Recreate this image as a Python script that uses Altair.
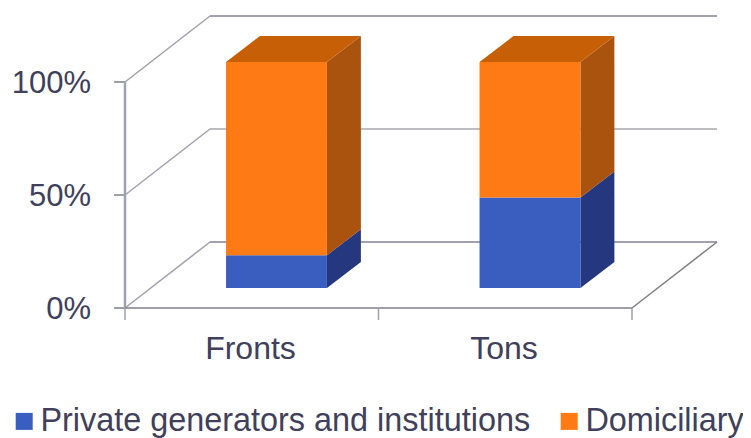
import altair as alt
import pandas as pd

categories = ["Fronts", "Tons"]
series = ["Private generators and institutions", "Domiciliary"]
private_values = [14.5, 40.0]
domiciliary_values = [85.5, 60.0]
y_ticks = [0, 50, 100]
y_labels = ["0%", "50%", "100%"]

front_colors = ["#3A5DC0", "#FD7A14"]
side_colors = ["#25387F", "#A9530F"]
top_color = "#C75F07"
line_color = "#A0A0AE"
dark_line = "#7E7E86"
text_color = "#40405A"
FONT = "Liberation Sans"

# oblique projection of the 3D box, in data units (category units, percent)
WALL_DX, WALL_DY = 0.3353, 29.2
BAR_START_DX, BAR_START_DY = 0.1026, 8.85
BAR_DX, BAR_DY = 0.134, 11.5
BAR_LEFT, BAR_RIGHT = 0.296, 0.694

# wall and floor lines
segs = []
def seg(x, y, x2, y2, w=1.5, c=line_color):
    segs.append(dict(x=x, y=y, x2=x2, y2=y2, w=w, c=c))

n = len(categories)
for t in y_ticks:
    seg(0, t, WALL_DX, t + WALL_DY)
    if t == 50:
        seg(WALL_DX, t + WALL_DY, n + WALL_DX, t + WALL_DY, 1.2, dark_line)
    else:
        seg(WALL_DX, t + WALL_DY, n + WALL_DX, t + WALL_DY, 2.2)
    seg(-0.043, t, 0, t, 1.5, dark_line)
seg(0, 0, 0, 100, 2.5)
seg(0, 0, n, 0, 1.6, dark_line)
seg(n, 0, n + WALL_DX, WALL_DY, 1.5, dark_line)
for i in range(n + 1):
    seg(i, 0, i, -5.3, 1.5)

front, faces = [], []
for i, cat in enumerate(categories):
    left = i + BAR_LEFT + BAR_START_DX
    right = i + BAR_RIGHT + BAR_START_DX
    base = BAR_START_DY
    bottom = 0.0
    for s, vals, side in zip(series, [private_values, domiciliary_values], side_colors):
        v = vals[i]
        y0, y1 = base + bottom, base + bottom + v
        front.append(dict(series=s, x=left, x2=right, y=y0, y2=y1))
        key = f"{cat}-{s}-side"
        faces.append(dict(k=key, f=side, x=right, y=y0, y2=y1))
        faces.append(dict(k=key, f=side, x=right + BAR_DX, y=y0 + BAR_DY, y2=y1 + BAR_DY))
        bottom += v
    top = base + bottom
    key = f"{cat}-top"
    faces.append(dict(k=key, f=top_color, x=left, y=top, y2=top))
    faces.append(dict(k=key, f=top_color, x=left + BAR_DX, y=top, y2=top + BAR_DY))
    faces.append(dict(k=key, f=top_color, x=right, y=top, y2=top + BAR_DY))
    faces.append(dict(k=key, f=top_color, x=right + BAR_DX, y=top + BAR_DY, y2=top + BAR_DY))

xs = alt.Scale(domain=[-0.4615, 2.4379], nice=False, zero=False)
ys = alt.Scale(domain=[-57.52, 132.74], nice=False, zero=False)
X = lambda f: alt.X(f, type="quantitative", scale=xs, axis=None)
Y = lambda f: alt.Y(f, type="quantitative", scale=ys, axis=None, stack=None)

lines = alt.Chart(pd.DataFrame(segs)).mark_rule().encode(
    x=X("x"), y=Y("y"), x2="x2:Q", y2="y2:Q",
    strokeWidth=alt.StrokeWidth("w:Q", scale=None),
    stroke=alt.Stroke("c:N", scale=None),
)
area = alt.Chart(pd.DataFrame(faces)).mark_area(orient="vertical").encode(
    x=X("x"), y=Y("y"), y2="y2:Q", detail="k:N",
    color=alt.Color("f:N", scale=None, legend=None),
)
bars = alt.Chart(pd.DataFrame(front)).mark_rect().encode(
    x=X("x"), y=Y("y"), x2="x2:Q", y2="y2:Q",
    color=alt.Color(
        "series:N",
        scale=alt.Scale(domain=series, range=front_colors),
        legend=alt.Legend(
            title=None, orient="none", legendX=0, legendY=397, direction="horizontal",
            columns=2, symbolType="square", symbolSize=289, symbolStrokeWidth=0,
            labelFont=FONT, labelFontSize=32.4, labelColor=text_color, labelLimit=600,
            labelOffset=0, columnPadding=22, padding=0,
        ),
    ),
)
ylab = alt.Chart(pd.DataFrame({"x": [-0.134] * 3, "y": y_ticks, "t": y_labels})).mark_text(
    align="right", baseline="middle", dy=2, font=FONT, fontSize=31, color=text_color
).encode(x=X("x"), y=Y("y"), text="t:N")
xlab = alt.Chart(pd.DataFrame({"x": [i + 0.495 for i in range(n)], "y": [0] * n, "t": categories})).mark_text(
    align="center", baseline="middle", dy=41, font=FONT, fontSize=32, color=text_color
).encode(x=X("x"), y=Y("y"), text="t:N")

chart = (
    alt.layer(lines, area, bars, ylab, xlab)
    .resolve_scale(color="independent")
    .properties(width=735, height=430, autosize=alt.AutoSizeParams(type="none"), padding=0, background="white")
    .configure_view(stroke=None)
)
chart.save("out.html", embed_options={"renderer": "svg", "actions": False})
